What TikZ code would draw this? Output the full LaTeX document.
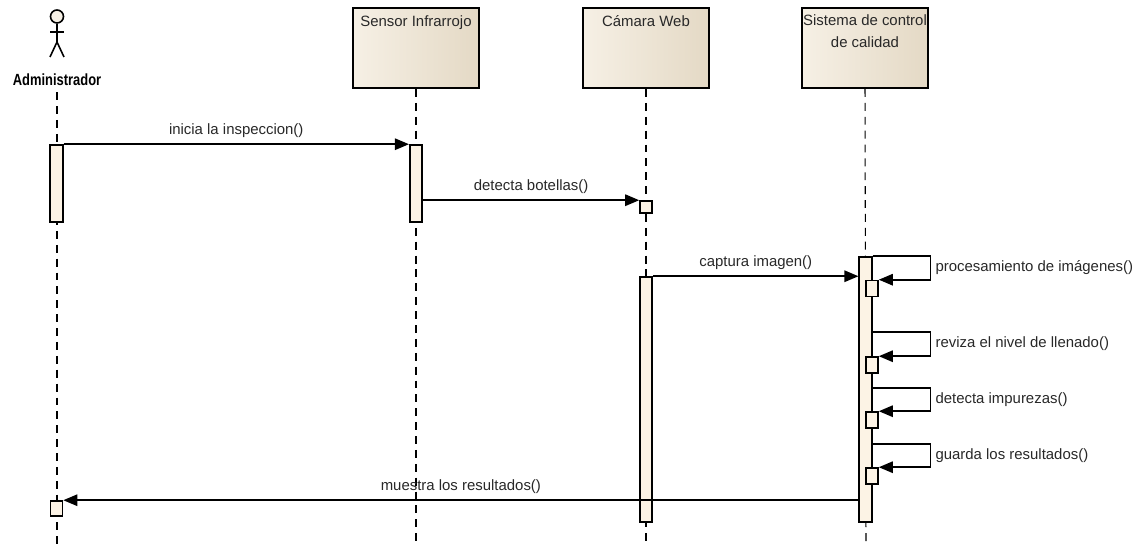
\documentclass[tikz,border=0pt]{standalone}
\usepackage{fontspec}
\setmainfont{Liberation Sans}
\usepackage{xcolor}
\usepackage{graphicx}
\usepackage{tikz}
\usetikzlibrary{positioning, arrows.meta}
\definecolor{boxl}{RGB}{246,240,229}
\definecolor{boxr}{RGB}{228,217,197}
\definecolor{barfill}{RGB}{252,243,229}
\definecolor{txt}{RGB}{40,40,40}
\tikzstyle{lifebox} = [draw=black, line width=1.2pt, left color=boxl, right color=boxr, minimum width=2.52cm, minimum height=1.6cm, inner sep=0pt]
\tikzstyle{lifeline} = [line width=0.6pt, dash pattern=on 4.5pt off 3.4pt]
\tikzstyle{actbar} = [draw=black, line width=0.9pt, fill=barfill, minimum width=0.25cm, inner sep=0pt]
\tikzstyle{actbox} = [actbar, minimum width=0.24cm, minimum height=0.32cm]
\tikzstyle{msg} = [line width=1pt, -{Triangle[length=8pt,width=6.5pt]}]

\begin{document}
\begin{tikzpicture}[x=0.02cm, y=-0.02cm, every node/.style={font=\fontsize{8.5}{10}\selectfont, text=txt}]
    \useasboundingbox (0,0) rectangle (1141,547);
    % actor
    \node[circle, draw, line width=0.9pt, fill=boxl, minimum size=0.26cm, inner sep=0pt] (head) at (57,16.5) {};
    \draw[line width=0.9pt] (head.south) -- (57,42) coordinate (hip);
    \draw[line width=0.9pt] (50,32) -- (64,32);
    \draw[line width=0.9pt] (50,57) -- (hip) -- (64,57);
    \node[font=\fontsize{9.2}{10}\bfseries, text=black] (admin) at (57,80) {\scalebox{0.8}[1]{Administrador}};
    % objetos
    \node[lifebox] (sensor) at (416,48) {};
    \node[lifebox] (camara) at (646,48) {};
    \node[lifebox] (sistema) at (865,48) {};
    \node[below=1.5pt of sensor.north] {Sensor Infrarrojo};
    \node[below=1.5pt of camara.north] {Cámara Web};
    \node[below=1pt of sistema.north, align=center, font=\fontsize{8.5}{12.5}\selectfont] {Sistema de control\\de calidad};
    % lineas de vida
    \coordinate (admin end) at (57,547);
    \coordinate (sensor end) at (416,547);
    \coordinate (camara end) at (646,547);
    \coordinate (sistema end) at (866,547);
    \draw[lifeline] (admin.south) -- (admin end);
    \draw[lifeline] (sensor.south) -- (sensor end);
    \draw[lifeline] (camara.south) -- (camara end);
    \draw[lifeline] (sistema.south) -- (sistema end);
    % activaciones
    \node[actbar, minimum height=1.54cm] (adminbar) at (56.5,183.5) {};
    \node[actbar, minimum height=1.54cm] (sensorbar) at (416,183.5) {};
    \node[actbar, minimum height=4.9cm] (camarabar) at (646,399.5) {};
    \node[actbar, minimum height=5.3cm] (sistemabar) at (865.5,389.5) {};
    \node[actbox, minimum height=0.24cm] (camarabox) at (646,207) {};
    \node[actbox, minimum height=0.3cm] (adminbox) at (56.5,508.5) {};
    \node[actbox] (sbox1) at (872,288.5) {};
    \node[actbox] (sbox2) at (872,365) {};
    \node[actbox] (sbox3) at (872,420) {};
    \node[actbox] (sbox4) at (872,476) {};
    % mensajes
    \draw[msg] (adminbar.north east) -- node[above]{inicia la inspeccion()} (sensorbar.north west);
    \draw[msg] (sensorbar.east |- camarabox.north) -- node[above]{detecta botellas()} (camarabox.north west);
    \draw[msg] (camarabar.north east) -- node[above]{captura imagen()} (sistemabar.west |- camarabar.north);
    \draw[msg] (sistemabar.north east) -- ++(58,0) |- node[pos=0.25, right=-1pt]{procesamiento de imágenes()} (sbox1.north east);
    \foreach \y/\b/\t in {332/sbox2/reviza el nivel de llenado(), 388/sbox3/detecta impurezas(), 444/sbox4/guarda los resultados()}
        \draw[msg] (sistemabar.east |- 0,\y) -- ++(58,0) |- node[pos=0.25, right=-1pt]{\t} (\b.north east);
    \draw[msg] (sistemabar.west |- adminbox.north) -- node[above]{muestra los resultados()} (adminbox.north east);
\end{tikzpicture}
\end{document}
